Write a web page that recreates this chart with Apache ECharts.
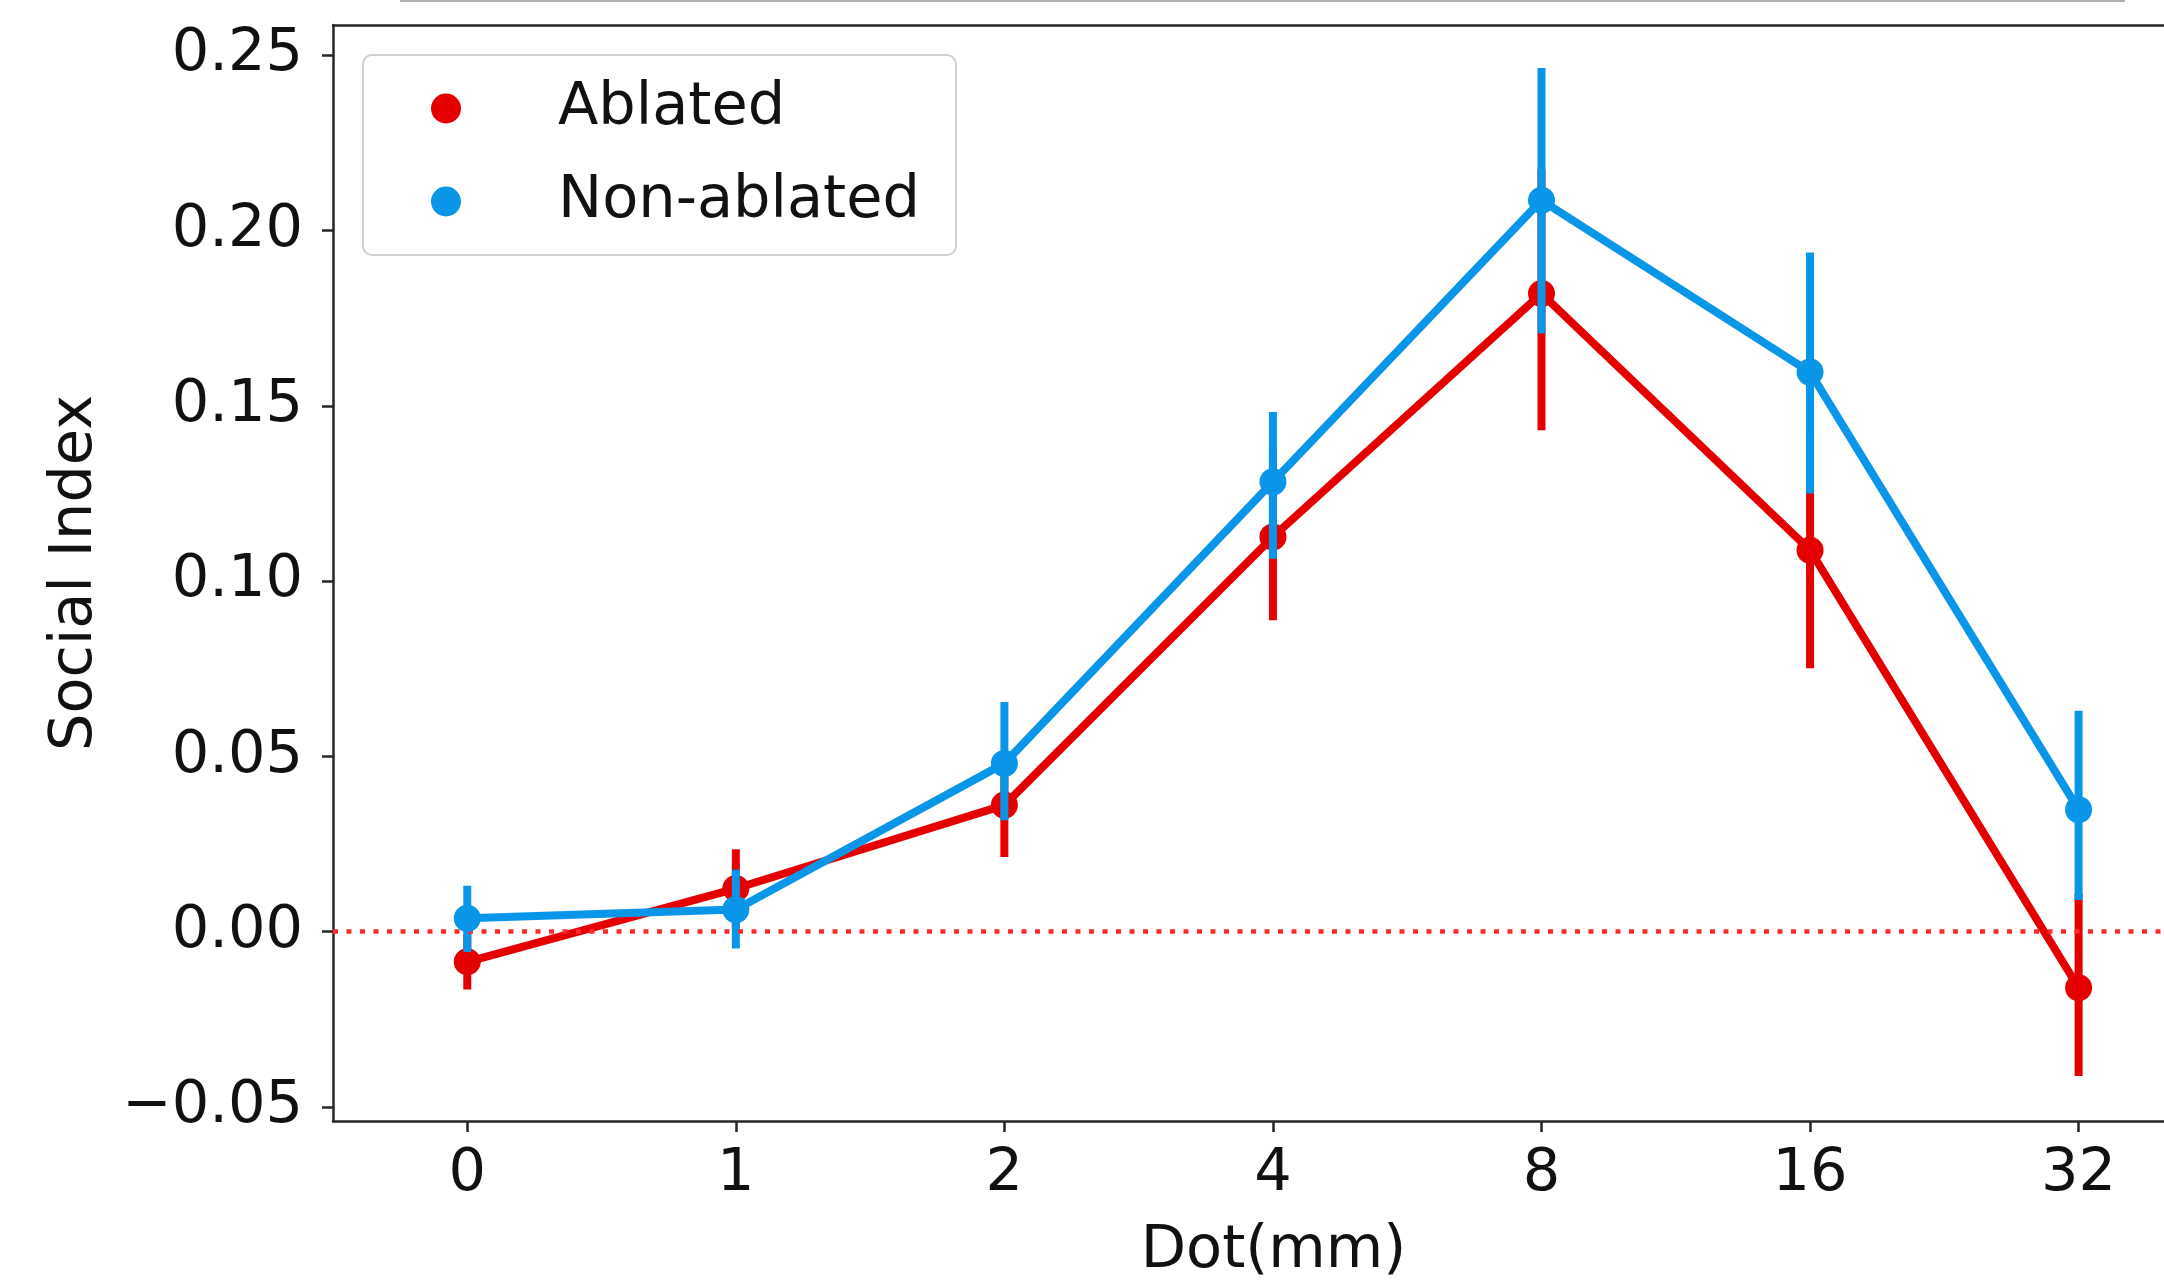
<!DOCTYPE html>
<html>
<head>
<meta charset="utf-8">
<script src="https://cdn.jsdelivr.net/npm/echarts@6/dist/echarts.min.js"></script>
<style>
html,body{margin:0;padding:0;background:#fff;}
#chart{width:2164px;height:1281px;}
</style>
</head>
<body>
<div id="chart"></div>
<script>
const categories = ['0', '1', '2', '4', '8', '16', '32'];
const seriesNames = ['Ablated', 'Non-ablated'];
const ablatedMean = [-0.0086, 0.0123, 0.0361, 0.1126, 0.1820, 0.1088, -0.0160];
const ablatedLow  = [-0.0165, 0.0011, 0.0213, 0.0888, 0.1430, 0.0751, -0.0412];
const ablatedHigh = [-0.0007, 0.0235, 0.0510, 0.1378, 0.2176, 0.1425, 0.0109];
const nonMean = [0.0038, 0.0063, 0.0480, 0.1283, 0.2086, 0.1596, 0.0348];
const nonLow  = [-0.0058, -0.0048, 0.0318, 0.1064, 0.1707, 0.1250, 0.0090];
const nonHigh = [0.0131, 0.0177, 0.0655, 0.1482, 0.2463, 0.1937, 0.0630];
const yTicks = [-0.05, 0.00, 0.05, 0.10, 0.15, 0.20, 0.25];
const yMin = -0.054, yMax = 0.2586;
// category positions 0..6; the plot is cropped on the right in the reference
const xMin = -0.5, xMax = 6.318;
const xTicks = categories.map((c, i) => i);

const RED = '#e50000', BLUE = '#0a96e8', INK = '#262626', TXT = '#111';
const FONT = 'DejaVu Sans';

function pts(arr) { return arr.map((v, i) => [i, v]); }
function ciData(lo, hi) { return lo.map((v, i) => [i, v, hi[i]]); }
function errSeries(name, lo, hi, color, z) {
  return {
    type: 'custom', name: name, z: z, silent: true,
    renderItem: function (params, api) {
      const x = api.value(0);
      const a = api.coord([x, api.value(1)]);
      const b = api.coord([x, api.value(2)]);
      return { type: 'line', shape: { x1: a[0], y1: a[1], x2: b[0], y2: b[1] },
               style: { stroke: color, lineWidth: 8, lineCap: 'butt' } };
    },
    data: ciData(lo, hi)
  };
}

const chart = echarts.init(document.getElementById('chart'), null, { renderer: 'canvas' });
chart.setOption({
  animation: false,
  backgroundColor: '#fff',
  textStyle: { fontFamily: FONT },
  grid: { left: 333, top: 25, right: 0, bottom: 160, show: false, containLabel: false, outerBoundsMode: 'none' },
  xAxis: [{
    type: 'value', min: xMin, max: xMax,
    name: 'Dot(mm)', nameLocation: 'middle', nameGap: 101,
    nameTextStyle: { fontFamily: FONT, fontSize: 59, color: TXT, padding: [0, 0, 0, 50] },
    axisLine: { show: true, onZero: false, lineStyle: { color: INK, width: 2.5 } },
    axisTick: { show: true, length: 11, customValues: xTicks, lineStyle: { color: INK, width: 2.5 } },
    axisLabel: { fontFamily: FONT, fontSize: 59, color: TXT, margin: 24, customValues: xTicks,
                 formatter: v => categories[Math.round(v)] },
    splitLine: { show: false }
  }, {
    type: 'value', min: xMin, max: xMax, position: 'top',
    axisLine: { show: true, onZero: false, lineStyle: { color: INK, width: 2.5 } },
    axisTick: { show: false }, axisLabel: { show: false }, splitLine: { show: false }
  }],
  yAxis: {
    type: 'value', min: yMin, max: yMax,
    name: 'Social Index', nameLocation: 'middle', nameRotate: 90, nameGap: 228,
    nameTextStyle: { fontFamily: FONT, fontSize: 59, color: TXT },
    axisLine: { show: true, onZero: false, lineStyle: { color: INK, width: 2.5 } },
    axisTick: { show: true, length: 11, customValues: yTicks, lineStyle: { color: INK, width: 2.5 } },
    axisLabel: { fontFamily: FONT, fontSize: 59, color: TXT, margin: 30, customValues: yTicks,
                 formatter: v => (v < 0 ? '\u2212' : '') + Math.abs(v).toFixed(2) },
    splitLine: { show: false }
  },
  legend: {
    data: seriesNames, left: 363, top: 55, orient: 'vertical',
    icon: 'circle', itemWidth: 30, itemHeight: 30, itemGap: 34,
    padding: [24, 36, 24, 68],
    backgroundColor: 'rgba(255,255,255,0.85)', borderColor: '#d0d0d0', borderWidth: 2, borderRadius: 9,
    textStyle: { fontFamily: FONT, fontSize: 59, color: TXT, padding: [0, 0, 0, 92] },
    selectedMode: false
  },
  graphic: [{ type: 'rect', shape: { x: 400, y: 0, width: 1725, height: 2 }, style: { fill: '#b0b0b0' }, silent: true }],
  series: [
    errSeries('Ablated CI', ablatedLow, ablatedHigh, RED, 2),
    {
      type: 'line', name: seriesNames[0], data: pts(ablatedMean), z: 3,
      symbol: 'circle', symbolSize: 27, showSymbol: true,
      lineStyle: { color: RED, width: 8 }, itemStyle: { color: RED },
      markLine: {
        silent: true, symbol: 'none', label: { show: false },
        lineStyle: { color: '#ff2a2a', width: 4.5, type: [5, 8.5] },
        data: [{ yAxis: 0 }]
      }
    },
    errSeries('Non-ablated CI', nonLow, nonHigh, BLUE, 4),
    {
      type: 'line', name: seriesNames[1], data: pts(nonMean), z: 5,
      symbol: 'circle', symbolSize: 27, showSymbol: true,
      lineStyle: { color: BLUE, width: 8 }, itemStyle: { color: BLUE }
    }
  ]
});
</script>
</body>
</html>
